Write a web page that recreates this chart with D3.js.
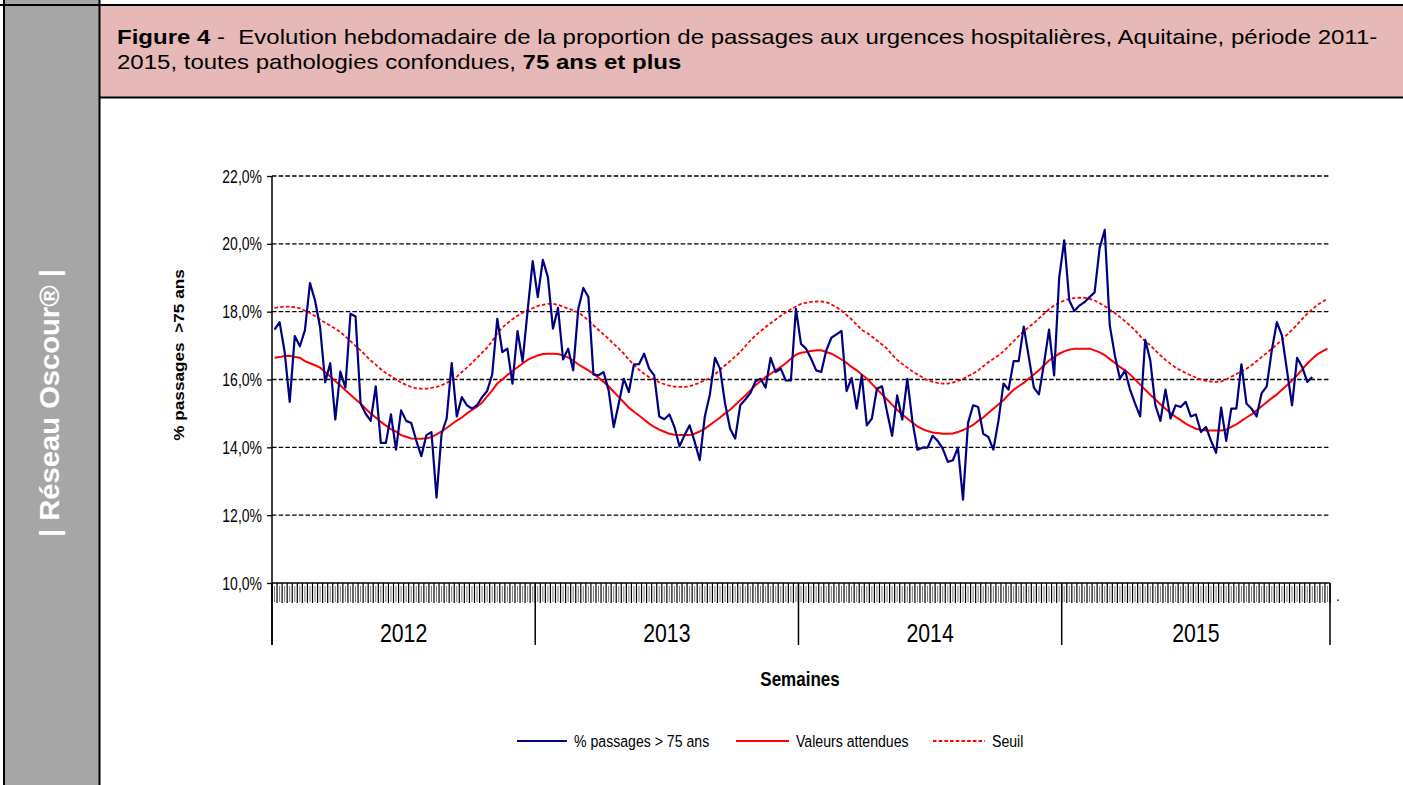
<!DOCTYPE html>
<html><head><meta charset="utf-8">
<script src="https://cdn.jsdelivr.net/npm/d3@7"></script>
<style>body{margin:0;background:#fff}svg{display:block}text{font-family:"Liberation Sans",Arial,sans-serif}</style>
</head><body>
<svg id="c" width="1403" height="785"></svg>
<script>
const years = ["2012","2013","2014","2015"];
const weeksPerYear = [52,52,52,53];
const yTicks = [10,12,14,16,18,20,22];
const seriesNames = ["% passages > 75 ans","Valeurs attendues","Seuil"];

const observed = [17.47,17.69,16.81,15.34,17.28,16.98,17.45,18.84,18.33,17.54,15.92,16.48,14.82,16.23,15.76,17.94,17.86,15.29,14.99,14.78,15.80,14.13,14.13,14.97,13.93,15.09,14.78,14.72,14.2,13.74,
14.36,14.45,12.52,14.40,14.85,16.48,14.91,15.48,15.24,15.14,15.24,15.48,15.66,16.15,17.79,16.81,16.91,15.88,17.43,16.53,18.04,19.49,18.43,19.53,19.02,17.50,18.11,16.59,16.91,16.27,
18.08,18.70,18.43,16.15,16.12,16.22,15.68,14.60,15.29,16.02,15.63,16.45,16.45,16.76,16.32,16.12,14.91,14.83,14.97,14.60,14.03,14.36,14.65,14.16,13.62,14.91,15.56,16.64,16.32,15.29,
14.55,14.26,15.24,15.41,15.60,15.95,16.02,15.76,16.64,16.22,16.32,15.97,15.97,18.08,17.05,16.91,16.61,16.27,16.22,16.86,17.23,17.33,17.43,15.66,16.05,15.14,16.12,14.65,14.85,15.73,
15.80,15.04,14.34,15.53,14.82,16.02,14.78,13.93,13.99,13.99,14.34,14.19,13.96,13.57,13.62,13.99,12.46,14.72,15.24,15.19,14.40,14.31,13.93,14.78,15.88,15.70,16.54,16.54,17.56,16.66,
15.76,15.56,16.47,17.47,16.12,19.00,20.10,18.33,18.02,18.18,18.28,18.43,18.57,19.88,20.41,17.59,16.71,16.02,16.27,15.70,15.29,14.91,17.17,16.56,15.24,14.78,15.70,14.85,15.24,15.19,
15.34,14.91,14.97,14.45,14.60,14.19,13.84,15.17,14.19,15.14,15.14,16.45,15.29,15.14,14.91,15.60,15.80,16.86,17.69,17.30,16.27,15.24,16.64,16.37,15.93,16.07];

const expected = [16.64,16.66,16.69,16.70,16.66,16.64,16.54,16.48,16.42,16.35,16.22,16.09,15.95,15.83,15.68,15.55,15.42,15.29,15.14,15.00,14.88,14.75,14.64,14.54,14.46,14.36,14.31,14.26,14.25,14.25,
14.27,14.30,14.38,14.47,14.57,14.68,14.79,14.88,15.00,15.10,15.20,15.32,15.50,15.68,15.88,16.00,16.13,16.25,16.36,16.47,16.58,16.65,16.71,16.75,16.76,16.76,16.75,16.71,16.65,16.56,
16.45,16.36,16.27,16.17,16.05,15.93,15.80,15.64,15.48,15.33,15.17,15.05,14.94,14.82,14.70,14.60,14.52,14.46,14.40,14.37,14.36,14.36,14.36,14.40,14.47,14.55,14.66,14.77,14.88,15.00,
15.11,15.25,15.39,15.53,15.68,15.83,15.95,16.07,16.17,16.27,16.37,16.48,16.61,16.73,16.79,16.81,16.84,16.86,16.86,16.81,16.76,16.68,16.59,16.49,16.37,16.27,16.15,16.03,15.87,15.72,
15.56,15.41,15.26,15.11,14.97,14.85,14.73,14.62,14.54,14.48,14.44,14.42,14.40,14.40,14.41,14.45,14.51,14.58,14.66,14.78,14.88,15.01,15.14,15.26,15.39,15.55,15.70,15.80,15.90,16.03,
16.15,16.27,16.42,16.56,16.66,16.76,16.83,16.88,16.91,16.91,16.91,16.91,16.86,16.80,16.72,16.60,16.49,16.37,16.27,16.15,16.00,15.85,15.70,15.55,15.41,15.27,15.14,15.01,14.90,14.80,
14.70,14.62,14.55,14.52,14.50,14.50,14.50,14.50,14.52,14.60,14.68,14.78,14.88,14.97,15.09,15.21,15.33,15.45,15.56,15.70,15.83,15.97,16.12,16.29,16.47,16.61,16.74,16.83,16.91];

const threshold = [18.11,18.13,18.15,18.15,18.13,18.10,18.03,17.96,17.87,17.77,17.67,17.59,17.50,17.40,17.27,17.13,16.99,16.86,16.71,16.56,16.44,16.30,16.19,16.10,16.00,15.91,15.84,15.78,15.74,15.73,
15.73,15.75,15.78,15.83,15.90,15.98,16.08,16.22,16.35,16.49,16.64,16.79,16.94,17.13,17.37,17.53,17.66,17.78,17.88,17.97,18.03,18.10,18.17,18.20,18.23,18.23,18.20,18.15,18.09,18.04,
17.98,17.87,17.74,17.60,17.46,17.33,17.20,17.05,16.91,16.76,16.58,16.44,16.29,16.17,16.07,16.00,15.92,15.86,15.82,15.79,15.78,15.78,15.80,15.85,15.91,15.98,16.04,16.15,16.29,16.42,
16.54,16.68,16.81,16.98,17.15,17.30,17.42,17.55,17.66,17.77,17.88,17.98,18.07,18.15,18.23,18.26,18.29,18.30,18.30,18.28,18.21,18.13,18.03,17.90,17.77,17.62,17.46,17.38,17.27,17.15,
17.03,16.91,16.73,16.58,16.46,16.35,16.24,16.15,16.06,15.98,15.93,15.90,15.88,15.88,15.91,15.96,16.02,16.10,16.17,16.27,16.39,16.51,16.61,16.71,16.83,16.98,17.13,17.28,17.42,17.55,
17.66,17.80,17.94,18.07,18.18,18.26,18.33,18.38,18.40,18.41,18.41,18.38,18.33,18.25,18.16,18.06,17.96,17.84,17.72,17.59,17.45,17.28,17.12,17.01,16.86,16.71,16.58,16.46,16.35,16.27,
16.19,16.12,16.06,16.00,15.96,15.94,15.93,15.94,16.00,16.08,16.16,16.24,16.32,16.42,16.54,16.66,16.78,16.91,17.03,17.17,17.32,17.46,17.62,17.78,17.94,18.07,18.20,18.29,18.38];

const titleLine1 = [["Figure 4", true],[" -  Evolution hebdomadaire de la proportion de passages aux urgences hospitalières, Aquitaine, période 2011-", false]];
const titleLine2 = [["2015, toutes pathologies confondues, ", false],["75 ans et plus", true]];

// categories
const categories = [];
years.forEach((yr,k)=>{ for(let w=1; w<=weeksPerYear[k]; w++) categories.push(yr+"-S"+w); });

const svg = d3.select("#c");
const X0=272, X1=1330, YT=176, YB=583;
const x = d3.scaleBand().domain(categories).range([X0,X1]).padding(0);
const y = d3.scaleLinear().domain([10,22]).range([YB,YT]);
const xc = i => x(categories[i]) + x.bandwidth()/2;

// frame
svg.append("rect").attr("x",0).attr("y",0).attr("width",1403).attr("height",785).attr("fill","#fff");
svg.append("rect").attr("x",5).attr("y",0).attr("width",94).attr("height",785).attr("fill","#a6a6a6");
svg.append("rect").attr("x",100).attr("y",6).attr("width",1303).attr("height",91).attr("fill","#e6b9b8");
const bl = (x1,y1,x2,y2,w)=>svg.append("line").attr("x1",x1).attr("y1",y1).attr("x2",x2).attr("y2",y2).attr("stroke","#000").attr("stroke-width",w);
bl(0,5,1403,5,2);
bl(4,0,4,785,2);
bl(99.5,0,99.5,785,2);
bl(100,97.5,1403,97.5,2);

function txt(parent, o){
  const g = parent.append("g").attr("transform",`translate(${o.x},${o.y})`+(o.rot?` rotate(${o.rot})`:"")+` scale(${o.sx||1},${o.sy||1})`);
  const t = g.append("text").attr("text-anchor",o.anchor||"start").attr("font-size",o.size).attr("font-weight",o.weight||"normal").attr("fill",o.fill||"#000").style("white-space","pre");
  if(o.parts){ o.parts.forEach(p=>t.append("tspan").attr("font-weight",p[1]?"bold":"normal").text(p[0])); }
  else t.text(o.text);
  return {g,t};
}

// title
const t1 = txt(svg,{x:117,y:44,size:20.5,parts:titleLine1});
const w1 = t1.t.node().getComputedTextLength();
const sxT = 1261 / w1;
t1.g.attr("transform",`translate(117,44) scale(${sxT},1)`);
txt(svg,{x:117,y:68.5,size:20.5,parts:titleLine2,sx:sxT});

// sidebar text
const sb = txt(svg,{x:50,y:403,rot:-90,size:29,weight:"bold",fill:"#fff",anchor:"middle",text:"| Réseau Oscour® |"});
const wsb = sb.t.node().getComputedTextLength();
sb.g.attr("transform",`translate(59,403) rotate(-90) scale(${268/wsb},0.95)`);

// gridlines
svg.append("g").selectAll("line").data(yTicks.filter(v=>v>10)).join("line")
  .attr("x1",X0).attr("x2",X1).attr("y1",d=>y(d)).attr("y2",d=>y(d))
  .attr("stroke","#000").attr("stroke-width",1.3).attr("stroke-dasharray","4.5,2.2");

// y axis
const yAxis = svg.append("g").attr("transform",`translate(${X0},0)`)
  .call(d3.axisLeft(y).tickValues(yTicks).tickSize(5).tickFormat(d=>d.toFixed(1).replace(".",",")+"%"));
yAxis.select(".domain").remove();
yAxis.selectAll(".tick line").attr("stroke","#000").attr("stroke-width",1.3);
yAxis.selectAll(".tick text").attr("x",0).attr("dy",null).attr("dominant-baseline","central")
  .attr("font-size",17.5).attr("font-family","Liberation Sans, Arial").attr("fill","#000")
  .attr("transform","translate(-10,0) scale(0.8,1)");
bl(X0,YT,X0,645,1.5);

// x axis
bl(X0,YB,X1,YB,1.5);
const xAxis = svg.append("g");
xAxis.selectAll("line.tk").data(d3.range(categories.length+1)).join("line").attr("class","tk")
  .attr("x1",i=>i<categories.length?x(categories[i]):X1).attr("x2",i=>i<categories.length?x(categories[i]):X1)
  .attr("y1",YB).attr("y2",603).attr("stroke","#000").attr("stroke-width",1.2);
xAxis.selectAll("line.lb").data(categories).join("line").attr("class","lb")
  .attr("x1",d=>x(d)+x.bandwidth()/2).attr("x2",d=>x(d)+x.bandwidth()/2)
  .attr("y1",586).attr("y2",602).attr("stroke","#777").attr("stroke-width",1);
// year dividers and labels
let cum=0; const bounds=[0];
weeksPerYear.forEach(n=>{cum+=n; bounds.push(cum);});
bounds.forEach((b,k)=>{ const xx = b<categories.length? x(categories[b]) : X1; bl(xx,YB,xx,645,1.5); });
years.forEach((yr,k)=>{
  const a = x(categories[bounds[k]]), b = bounds[k+1]<categories.length? x(categories[bounds[k+1]]) : X1;
  txt(svg,{x:(a+b)/2,y:641.5,size:25,anchor:"middle",sx:0.85,text:yr});
});
txt(svg,{x:1336,y:601,size:14,text:"."});

// axis titles
txt(svg,{x:800,y:686,size:20,weight:"bold",anchor:"middle",sx:0.85,text:"Semaines"});
const yt = txt(svg,{x:184,y:355,rot:-90,size:17.2,weight:"bold",anchor:"middle",text:"% passages  >75 ans"});
yt.g.attr("transform","translate(184,355) rotate(-90) scale(1,0.85)");

// series
const line = d3.line().x((d,i)=>xc(i)).y(d=>y(d));
svg.append("path").datum(threshold).attr("d",line).attr("fill","none").attr("stroke","#ff0000").attr("stroke-width",1.8).attr("stroke-dasharray","3.5,2.2");
svg.append("path").datum(expected).attr("d",line).attr("fill","none").attr("stroke","#ff0000").attr("stroke-width",2);
svg.append("path").datum(observed).attr("d",line).attr("fill","none").attr("stroke","#000080").attr("stroke-width",2.2).attr("stroke-linejoin","round");

// legend
const lg = svg.append("g");
const legItems = [
  {name:seriesNames[0], x1:517, x2:567, tx:574, color:"#000080", dash:null, w:2.2},
  {name:seriesNames[1], x1:736, x2:789, tx:796, color:"#ff0000", dash:null, w:2},
  {name:seriesNames[2], x1:933, x2:985, tx:992, color:"#ff0000", dash:"3.5,2.2", w:1.8}
];
legItems.forEach(it=>{
  lg.append("line").attr("x1",it.x1).attr("x2",it.x2).attr("y1",741).attr("y2",741).attr("stroke",it.color).attr("stroke-width",it.w).attr("stroke-dasharray",it.dash);
  txt(lg,{x:it.tx,y:747,size:17,sx:0.83,text:it.name});
});
</script>
</body></html>
